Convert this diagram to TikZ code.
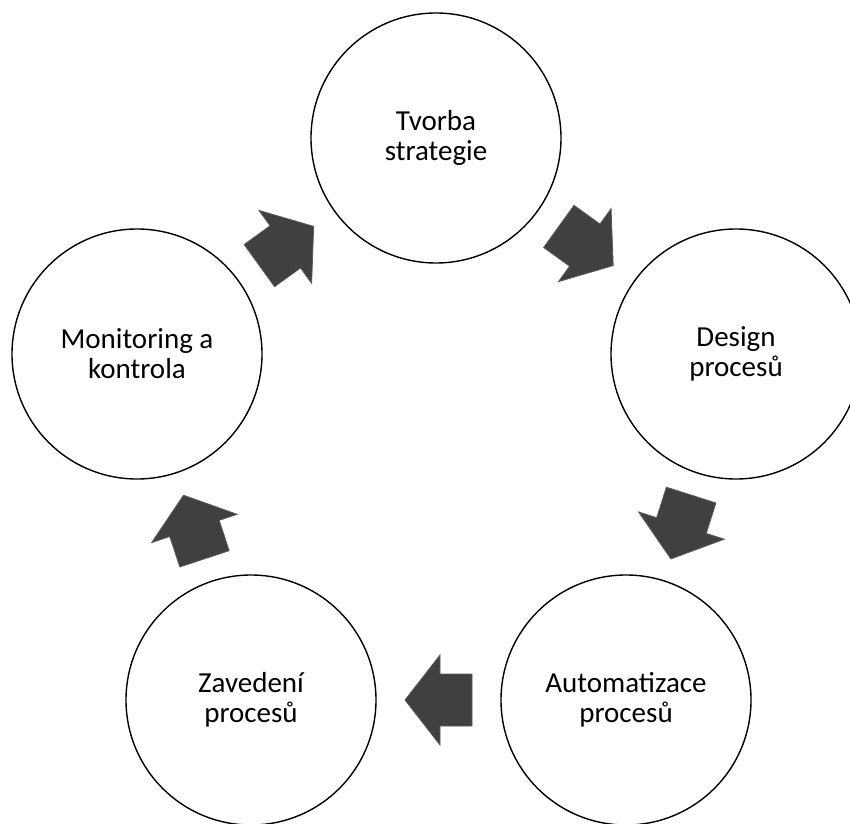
\documentclass[tikz,border=0pt]{standalone}
\usepackage{fontspec}
\setmainfont{Carlito}
\usetikzlibrary{calc}

\definecolor{arrowgray}{HTML}{404040}
\definecolor{arrowedge}{HTML}{5A5A5A}

\begin{document}
\begin{tikzpicture}[x=1pt, y=1pt, inner sep=0pt, outer sep=0pt,
    step_circ/.style={circle, draw=black, line width=1.4pt, minimum size=250pt,
        align=center, font=\fontsize{29}{30}\selectfont},
    cyc_arrow/.pic={
        \filldraw[fill=arrowgray, draw=arrowedge, line width=0.8pt, line join=miter]
        (-33.5,-26) -- (-1.5,-26) -- (-1.5,-45) -- (33.5,0)
        -- (-1.5,45) -- (-1.5,26) -- (-33.5,26) -- cycle;
    }]
    \useasboundingbox (0,0) rectangle (850,823);
    \clip (0,0) rectangle (850,823);

    % process steps
    \node[step_circ] (tvorba) at (436,685) {Tvorba\\strategie};
    \node[step_circ] (design) at (736,469) {Design\\procesů};
    \node[step_circ] (autom)  at (626,123) {Automatizace\\procesů};
    \node[step_circ] (zaved)  at (251,123) {Zavedení\\procesů};
    \node[step_circ] (monit)  at (137,469) {Monitoring a\\kontrola};

    % block arrows, halfway between neighbours
    \foreach \from/\to in {monit/tvorba, tvorba/design, design/autom, autom/zaved, zaved/monit}
        \path let \p1 = ($(\to)-(\from)$), \n1 = {atan2(\y1,\x1)} in
            ($(\from)!0.5!(\to)$) pic[rotate=\n1] {cyc_arrow};

\end{tikzpicture}
\end{document}
